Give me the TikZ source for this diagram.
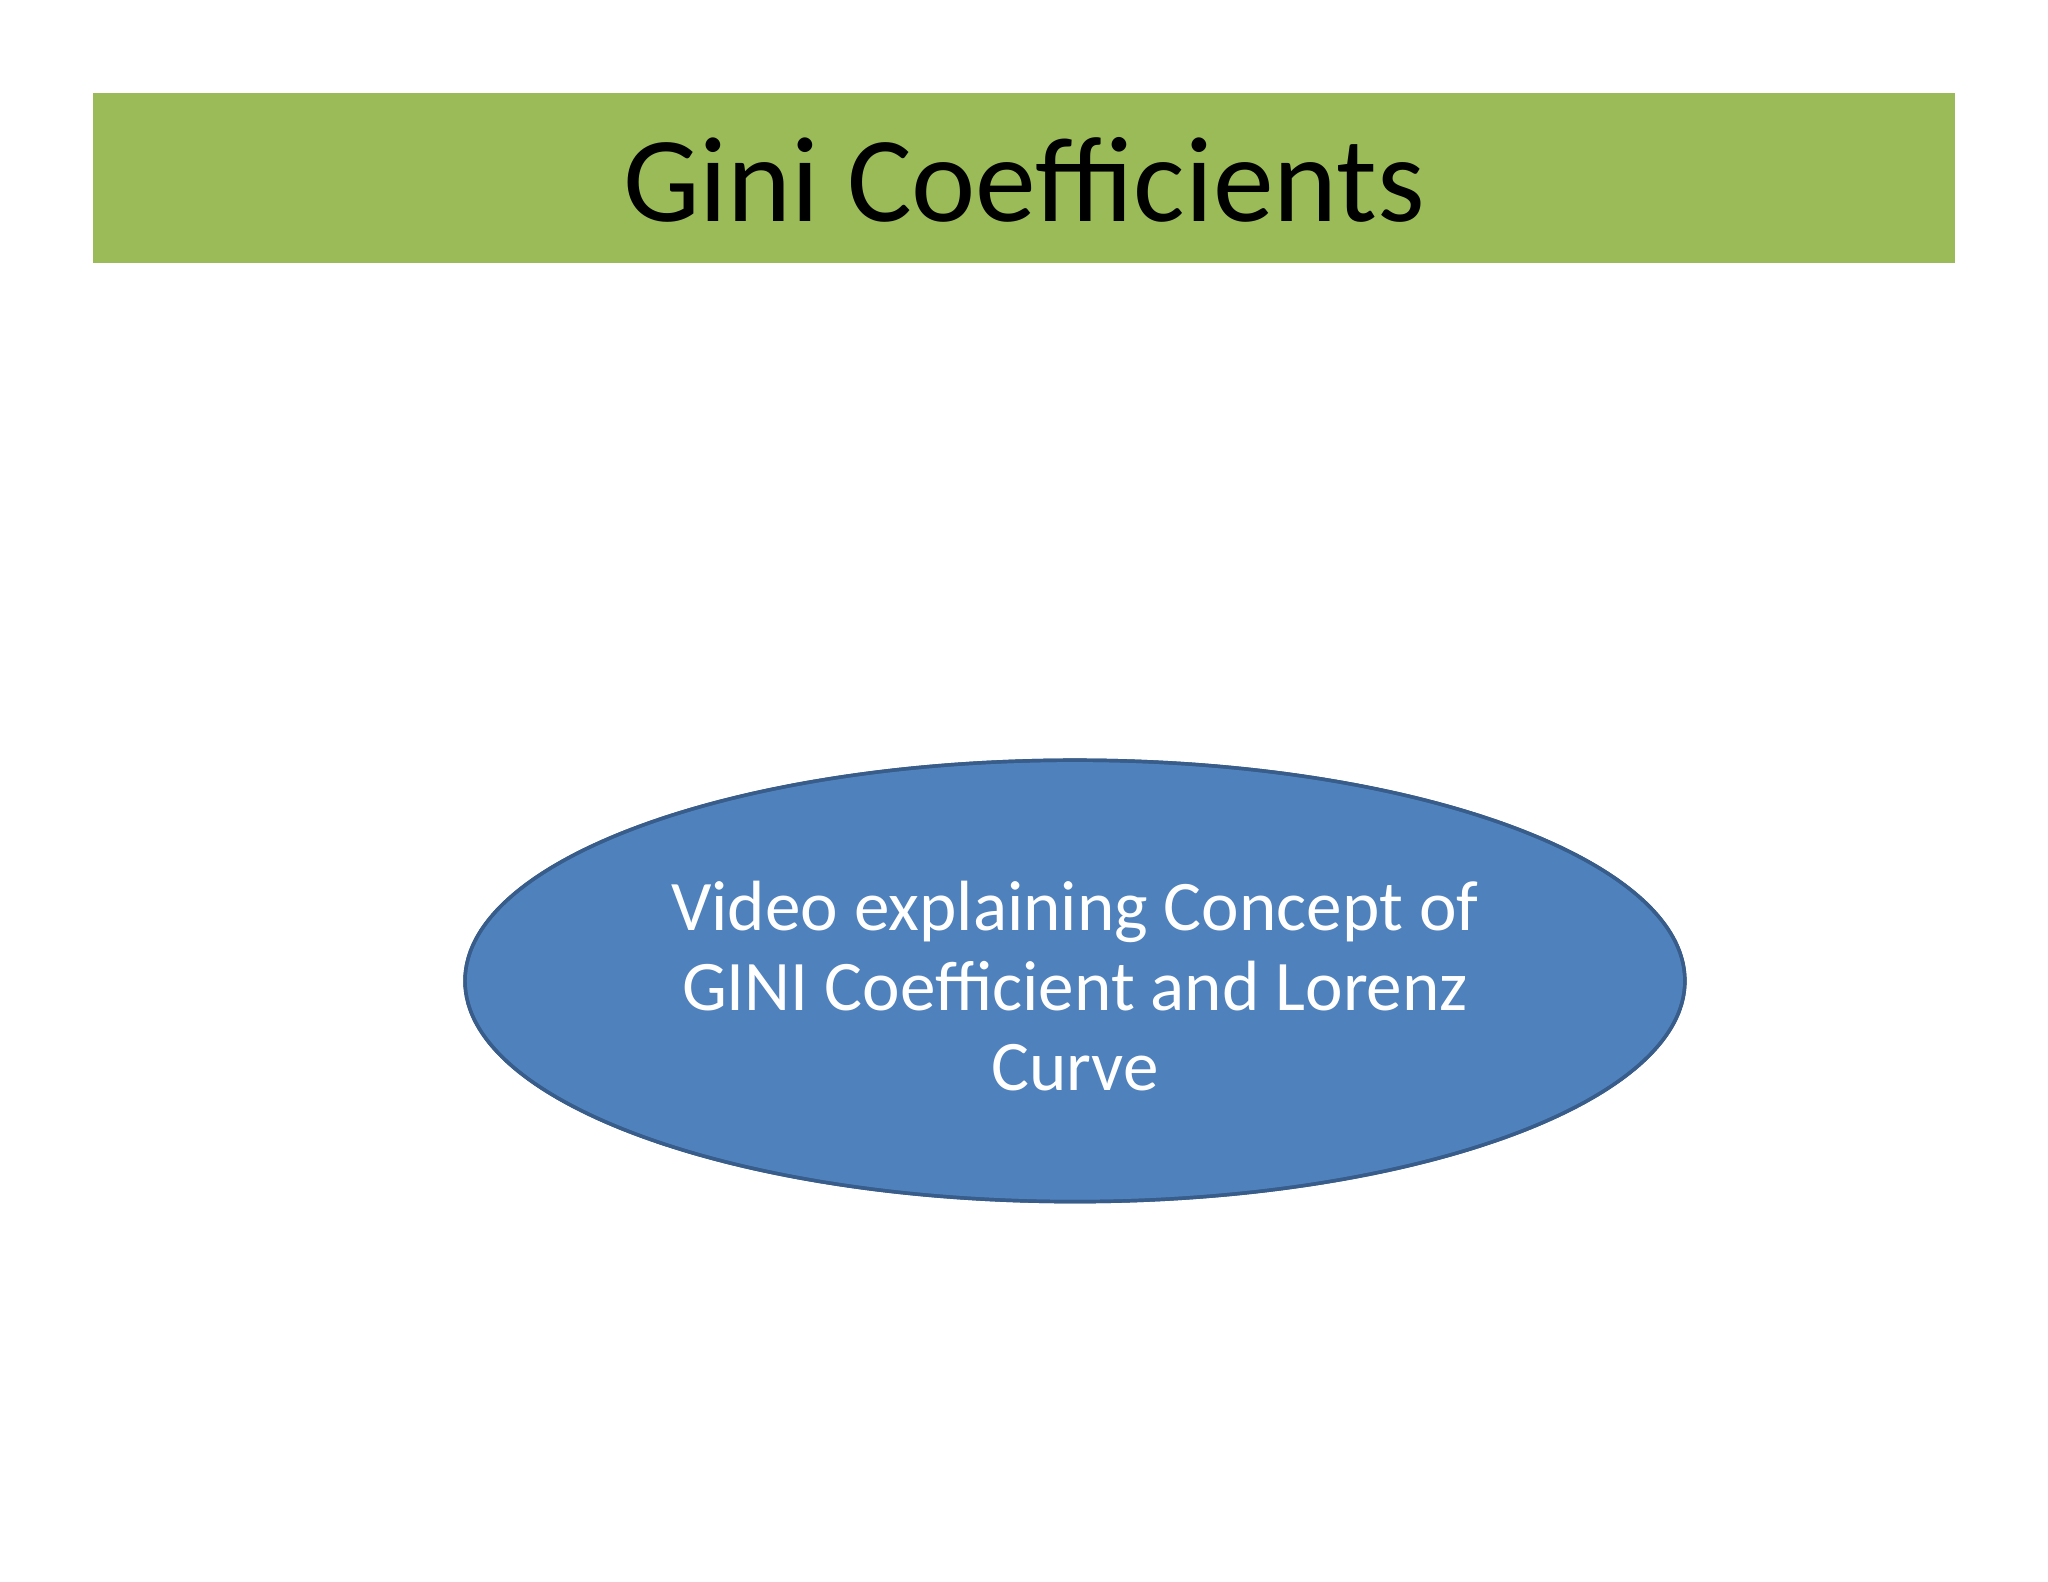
\documentclass[tikz,border=0pt]{standalone}
\usepackage{fontspec}
\setmainfont{Carlito}
\definecolor{bargreen}{HTML}{9BBB59}
\definecolor{ellfill}{HTML}{4F81BD}
\definecolor{elldraw}{HTML}{385D8A}
\begin{document}
\begin{tikzpicture}[x=0.02cm,y=-0.02cm,
  titlebar/.style={fill=bargreen,draw=none},
  bubble/.style={fill=ellfill,draw=elldraw,line width=1.5pt}]
\useasboundingbox (0,0) rectangle (1568,1211);
\fill[white] (0,0) rectangle (1568,1211);
\fill[titlebar] (71,71) rectangle (1497,201);
\node (title) at (784,138) {\fontsize{53}{60}\selectfont Gini Coefficients};
\fill[bubble] (823,751) ellipse [x radius=467, y radius=169];
\draw[bubble,fill=none] (823,751) ellipse [x radius=467, y radius=169];
\node[text=white,align=center,font={\fontsize{31}{34.7}\selectfont}] (label) at (823,755)
  {Video explaining Concept of\\GINI Coefficient and Lorenz\\Curve};
\end{tikzpicture}
\end{document}
